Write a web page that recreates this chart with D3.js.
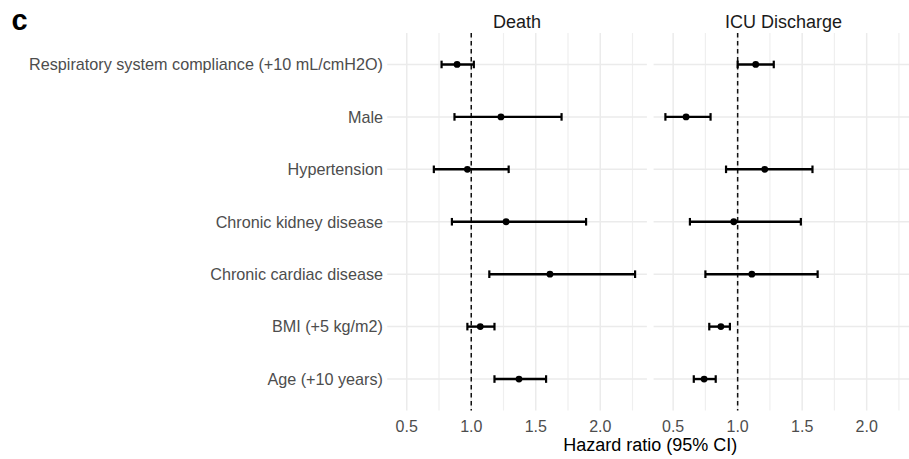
<!DOCTYPE html>
<html>
<head>
<meta charset="utf-8">
<script src="https://cdn.jsdelivr.net/npm/d3@7"></script>
<style>
  html, body { margin: 0; padding: 0; background: #fff; }
  svg { display: block; font-family: "Liberation Sans", Arial, sans-serif; }
</style>
</head>
<body>
<svg id="chart" width="909" height="459"></svg>
<script>
// Covariates, top to bottom
const covariates = [
  "Respiratory system compliance (+10 mL/cmH2O)",
  "Male",
  "Hypertension",
  "Chronic kidney disease",
  "Chronic cardiac disease",
  "BMI (+5 kg/m2)",
  "Age (+10 years)"
];

const outcomes = ["Death", "ICU Discharge"];

// Hazard ratios with 95% CI, death model
const deathHR    = [0.89, 1.23, 0.97, 1.27, 1.61, 1.07, 1.37];
const deathLower = [0.77, 0.87, 0.71, 0.85, 1.14, 0.97, 1.18];
const deathUpper = [1.02, 1.70, 1.29, 1.89, 2.27, 1.18, 1.58];

// Hazard ratios with 95% CI, ICU discharge model
const icuHR    = [1.14, 0.60, 1.21, 0.97, 1.11, 0.87, 0.74];
const icuLower = [1.00, 0.44, 0.91, 0.63, 0.75, 0.78, 0.66];
const icuUpper = [1.28, 0.79, 1.58, 1.49, 1.62, 0.94, 0.83];

const majorTicks = [0.5, 1.0, 1.5, 2.0];
const minorTicks = [0.75, 1.25, 1.75, 2.25];
const tickLabels = ["0.5", "1.0", "1.5", "2.0"];
const xTitle = "Hazard ratio (95% CI)";
const panelTag = "c";

const panels = [
  { name: outcomes[0], hr: deathHR, lo: deathLower, hi: deathUpper },
  { name: outcomes[1], hr: icuHR, lo: icuLower, hi: icuUpper }
];

// Layout
const panelTop = 33, panelBottom = 410.5;
const panelLeft0 = 387.2, panelWidth = 259.7, panelGap = 6.7;

// Shared x domain with 5% padding on both sides
const allVals = [].concat(deathLower, deathUpper, icuLower, icuUpper);
const vMin = d3.min(allVals), vMax = d3.max(allVals);
const pad = (vMax - vMin) * 0.05;
const xDomain = [vMin - pad, vMax + pad];

const y = d3.scalePoint()
  .domain(covariates)
  .range([panelTop, panelBottom])
  .padding(0.6);

const svg = d3.select("#chart");

// Panel tag
svg.append("text")
  .attr("x", 11.5).attr("y", 30)
  .attr("font-size", 29).attr("font-weight", "bold")
  .attr("fill", "#000")
  .text(panelTag);

// Row labels
svg.append("g")
  .selectAll("text")
  .data(covariates)
  .join("text")
  .attr("x", 383)
  .attr("y", d => y(d))
  .attr("dy", "0.36em")
  .attr("text-anchor", "end")
  .attr("font-size", 16.2)
  .attr("fill", "#4d4d4d")
  .text(d => d);

panels.forEach((p, pi) => {
  const left = panelLeft0 + pi * (panelWidth + panelGap);
  const x = d3.scaleLinear().domain(xDomain).range([left, left + panelWidth]);
  const g = svg.append("g");

  // Minor vertical grid
  g.selectAll("line.minor")
    .data(minorTicks.filter(t => t >= xDomain[0] && t <= xDomain[1]))
    .join("line")
    .attr("x1", d => x(d)).attr("x2", d => x(d))
    .attr("y1", panelTop).attr("y2", panelBottom)
    .attr("stroke", "#efefef").attr("stroke-width", 1.2);

  // Major vertical grid
  g.selectAll("line.major")
    .data(majorTicks)
    .join("line")
    .attr("x1", d => x(d)).attr("x2", d => x(d))
    .attr("y1", panelTop).attr("y2", panelBottom)
    .attr("stroke", "#ebebeb").attr("stroke-width", 1.5);

  // Horizontal grid per row
  g.selectAll("line.row")
    .data(covariates)
    .join("line")
    .attr("x1", left).attr("x2", left + panelWidth)
    .attr("y1", d => y(d)).attr("y2", d => y(d))
    .attr("stroke", "#ebebeb").attr("stroke-width", 1.5);

  // Reference line at HR = 1
  g.append("line")
    .attr("x1", x(1)).attr("x2", x(1))
    .attr("y1", panelTop).attr("y2", panelBottom)
    .attr("stroke", "#111").attr("stroke-width", 1.5)
    .attr("stroke-dasharray", "4.5,3.5");

  // Strip title
  g.append("text")
    .attr("x", left + panelWidth / 2).attr("y", 27.5)
    .attr("text-anchor", "middle")
    .attr("font-size", 18)
    .attr("fill", "#1a1a1a")
    .text(p.name);

  // Tick labels
  g.selectAll("text.tick")
    .data(majorTicks)
    .join("text")
    .attr("x", d => x(d)).attr("y", 431.5)
    .attr("text-anchor", "middle")
    .attr("font-size", 16)
    .attr("fill", "#4d4d4d")
    .text((d, i) => tickLabels[i]);

  // Error bars
  const rows = covariates.map((c, i) => ({ c, hr: p.hr[i], lo: p.lo[i], hi: p.hi[i] }));
  const eb = g.selectAll("g.eb").data(rows).join("g");
  eb.append("line")
    .attr("x1", d => x(d.lo)).attr("x2", d => x(d.hi))
    .attr("y1", d => y(d.c)).attr("y2", d => y(d.c))
    .attr("stroke", "#000").attr("stroke-width", 2.4);
  eb.append("line")
    .attr("x1", d => x(d.lo)).attr("x2", d => x(d.lo))
    .attr("y1", d => y(d.c) - 3.8).attr("y2", d => y(d.c) + 3.8)
    .attr("stroke", "#000").attr("stroke-width", 2.2);
  eb.append("line")
    .attr("x1", d => x(d.hi)).attr("x2", d => x(d.hi))
    .attr("y1", d => y(d.c) - 3.8).attr("y2", d => y(d.c) + 3.8)
    .attr("stroke", "#000").attr("stroke-width", 2.2);
  eb.append("circle")
    .attr("cx", d => x(d.hr)).attr("cy", d => y(d.c))
    .attr("r", 3.4)
    .attr("fill", "#000");
});

// Shared x-axis title
svg.append("text")
  .attr("x", panelLeft0 + panelWidth + panelGap / 2).attr("y", 451)
  .attr("text-anchor", "middle")
  .attr("font-size", 18)
  .attr("fill", "#000")
  .text(xTitle);
</script>
</body>
</html>
